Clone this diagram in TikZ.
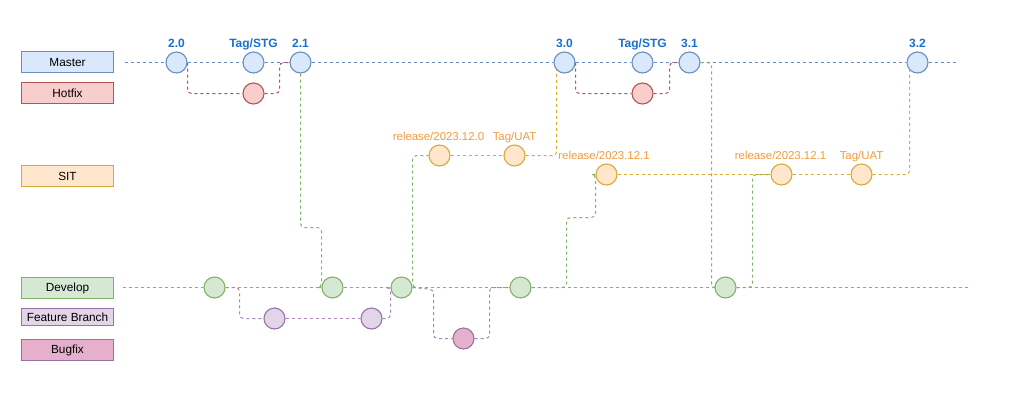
\documentclass[tikz,border=0pt]{standalone}
\usepackage{fontspec}
\setmainfont{Liberation Sans}
\usetikzlibrary{backgrounds}
\definecolor{mfill}{HTML}{DAE8FC}\definecolor{mline}{HTML}{6C8EBF}
\definecolor{hfill}{HTML}{F8CECC}\definecolor{hline}{HTML}{B85450}
\definecolor{sfill}{HTML}{FFE6CC}\definecolor{sline}{HTML}{D9A93A}
\definecolor{dfill}{HTML}{D5E8D4}\definecolor{dline}{HTML}{82B366}
\definecolor{ffill}{HTML}{E1D5E7}\definecolor{fline}{HTML}{9673A6}
\definecolor{bfill}{HTML}{E6B0CC}
\definecolor{tagblue}{HTML}{1A6FD0}
\definecolor{tagorange}{HTML}{F59A3C}
\begin{document}
\begin{tikzpicture}[x=1pt,y=-1pt,
  font=\fontsize{11.8}{13}\selectfont,
  legend/.style={draw, line width=1.1pt, minimum width=92pt, minimum height=21pt, inner sep=0pt},
  commit/.style={circle, draw, line width=1.1pt, minimum size=21pt, inner sep=0pt},
  conn/.style={dash pattern=on 3pt off 3pt, line width=1pt, rounded corners=4pt},
  mc/.style={commit, fill=mfill, draw=mline},
  hc/.style={commit, fill=hfill, draw=hline},
  sc/.style={commit, fill=sfill, draw=sline},
  dc/.style={commit, fill=dfill, draw=dline},
  fc/.style={commit, fill=ffill, draw=fline},
  bc/.style={commit, fill=bfill, draw=fline},
  bluetag/.style={text=tagblue, font=\fontsize{12}{14}\selectfont\bfseries, anchor=base, inner sep=0pt},
  orangetag/.style={text=tagorange, font=\fontsize{11.4}{13}\selectfont, anchor=base, inner sep=0pt},
  mconn/.style={conn, draw=mline},
  hconn/.style={conn, draw=hline},
  sconn/.style={conn, draw=sline},
  dconn/.style={conn, draw=dline},
  fconn/.style={conn, draw=fline!85},
]
\useasboundingbox (0,0) rectangle (1028,416);
\begin{scope}[shift={(0.5,0.5)}]
% legend
\node[legend, fill=mfill, draw=mline] (lmaster) at (67,61.5) {Master};
\node[legend, fill=hfill, draw=hline] (lhotfix) at (67,92.5) {Hotfix};
\node[legend, fill=sfill, draw=sline] (lsit) at (67,175.5) {SIT};
\node[legend, fill=dfill, draw=dline] (ldevelop) at (67,287.5) {Develop};
\node[legend, fill=ffill, draw=fline, minimum height=17pt] (lfeature) at (67,316.5) {Feature Branch};
\node[legend, fill=bfill, draw=fline] (lbugfix) at (67,349.5) {Bugfix};

% master
\node[mc] (m20) at (176,62) {};
\node[mc] (mstg1) at (253,62) {};
\node[mc] (m21) at (300,62) {};
\node[mc] (m30) at (564,62) {};
\node[mc] (mstg2) at (642,62) {};
\node[mc] (m31) at (689,62) {};
\node[mc] (m32) at (917,62) {};
\coordinate (mstart) at (124,62);
\coordinate (mend) at (957,62);

% hotfix
\node[hc] (h1) at (253,93) {};
\node[hc] (h2) at (642,93) {};

% SIT
\node[sc] (s1) at (439,155) {};
\node[sc] (s2) at (514,155) {};
\node[sc] (s3) at (606,174) {};
\node[sc] (s4) at (781,174) {};
\node[sc] (s5) at (861,174) {};

% develop
\node[dc] (d1) at (214,287) {};
\node[dc] (d2) at (332,287) {};
\node[dc] (d3) at (401,287) {};
\node[dc] (d4) at (520,287) {};
\node[dc] (d5) at (725,287) {};
\coordinate (dstart) at (122,287);
\coordinate (dend) at (970,287);

% feature / bugfix
\node[fc] (f1) at (274,318) {};
\node[fc] (f2) at (371,318) {};
\node[bc] (b1) at (463,338) {};

% tag labels
\node[bluetag] (t20) at (176,46.5) {2.0};
\node[bluetag] (tstg1) at (253,46.5) {Tag/STG};
\node[bluetag] (t21) at (300,46.5) {2.1};
\node[bluetag] (t30) at (564,46.5) {3.0};
\node[bluetag] (tstg2) at (642,46.5) {Tag/STG};
\node[bluetag] (t31) at (689,46.5) {3.1};
\node[bluetag] (t32) at (917,46.5) {3.2};
\node[orangetag] (tr120) at (438,140) {release/2023.12.0};
\node[orangetag] (tuat1) at (514,140) {Tag/UAT};
\node[orangetag] (tr121a) at (603.5,159) {release/2023.12.1};
\node[orangetag] (tr121b) at (780,159) {release/2023.12.1};
\node[orangetag] (tuat2) at (861,159) {Tag/UAT};
\end{scope}

\begin{scope}[on background layer]
\fill[white] (0,0) rectangle (1028,416);
\begin{scope}[shift={(0.5,0.5)}]
% master line
\draw[mconn] (mstart) -- (m20) -- (mstg1) -- (m21) -- (m30) -- (mstg2) -- (m31) -- (m32) -- (mend);
% hotfix
\draw[hconn] (m20.east) |- (h1.west);
\draw[hconn] (h1.east) -| (279,62) -- (m21.west);
\draw[hconn] (m30.east) |- (h2.west);
\draw[hconn] (h2.east) -| (669,62) -- (m31.west);
% SIT
\draw[sconn] (s1) -- (s2);
\draw[sconn] (s2.east) -| (m30.south west);
\draw[sconn] (s3) -- (s4) -- (s5);
\draw[sconn] (s5.east) -| (m32.south west);
% develop
\draw[dconn] (dstart) -- (d1) -- (d2) -- (d3) -- (d4) -- (d5) -- (dend);
\draw[dconn] (m21.south) -- (300,227) -- (321,227) -- (321,287) -- (d2.west);
\draw[dconn] (d3.east) -- (412,287) -- (412,155) -- (s1.west);
\draw[dconn] (d4.east) -- (566,287) -- (566,217) -- (595,217) -- (595,174) -- (s3.west);
\draw[dconn] (m31.east) -- (711,62) -- (711,287) -- (d5.west);
\draw[dconn] (d5.east) -- (752,287) -- (752,174) -- (s4.west);
% feature
\draw[fconn] (d1.east) -- (239,287) -- (239,318) -- (f1.west);
\draw[fconn] (f1) -- (f2);
\draw[fconn] (f2.east) -- (390,318) -- (390,287) -- (d3.west);
% bugfix
\draw[fconn] (d3.east) -- (433,289) -- (433,338) -- (b1.west);
\draw[fconn] (b1.east) -- (489,338) -- (489,287) -- (d4.west);
\end{scope}
\end{scope}
\end{tikzpicture}
\end{document}
